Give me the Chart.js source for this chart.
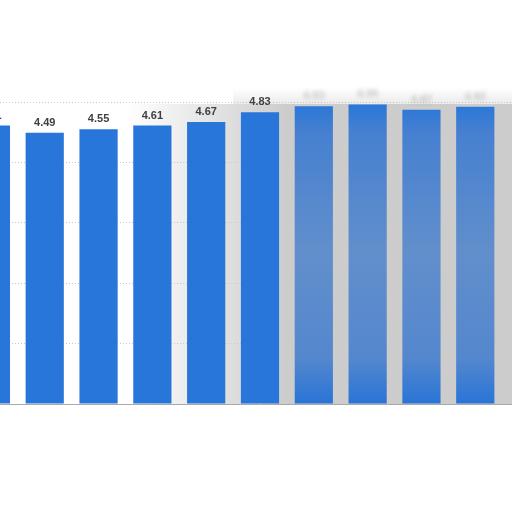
<!DOCTYPE html>
<html>
<head>
<meta charset="utf-8">
<script src="https://cdn.jsdelivr.net/npm/chart.js@4/dist/chart.umd.min.js"></script>
<style>
  html, body { margin: 0; padding: 0; width: 512px; height: 512px; overflow: hidden; background: #fff; }
  #wrap { position: absolute; left: -60px; top: 0; width: 640px; height: 512px; }
</style>
</head>
<body>
<div id="wrap"><canvas id="barChart"></canvas></div>
<script>
// categories are not readable in the picture (cropped / hidden), kept as plain keys
const categories = ['c1', 'c2', 'c3', 'c4', 'c5', 'c6', 'c7', 'c8', 'c9', 'c10', 'c11'];
// values read off the bars; the last four labels are blurred, so estimated from bar height
const values = [4.61, 4.49, 4.55, 4.61, 4.67, 4.83, 4.93, 4.96, 4.87, 4.92, null];
const labelText = ['4.61', '4.49', '4.55', '4.61', '4.67', '4.83', '4.93', '4.96', '4.87', '4.92', ''];
const yTicks = [0, 1, 2, 3, 4, 5];

const BLUE = 'rgb(40, 118, 217)';
const FIRST_BLURRED = 6;

// light grey haze behind the right half of the plot (behind grid and bars)
const hazePlugin = {
    id: 'haze',
    beforeDraw(chart) {
        const { ctx, chartArea } = chart;
        const x0 = chart.scales.x.getPixelForValue(2.5);
        const x1 = chart.scales.x.getPixelForValue(5.5);
        const g = ctx.createLinearGradient(x0, 0, x1, 0);
        g.addColorStop(0, 'rgba(200,200,200,0)');
        g.addColorStop(1, 'rgba(200,200,200,0.92)');
        ctx.save();
        ctx.fillStyle = g;
        ctx.fillRect(x0, chartArea.top + 2, chartArea.right - x0, chartArea.bottom - chartArea.top - 2);
        // soft fade just above the plot top
        const v = ctx.createLinearGradient(0, chartArea.top - 14, 0, chartArea.top + 2);
        v.addColorStop(0, 'rgba(215,215,215,0)');
        v.addColorStop(1, 'rgba(215,215,215,0.5)');
        ctx.fillStyle = v;
        ctx.fillRect(chart.scales.x.getPixelForValue(4.5), chartArea.top - 14, chartArea.right, 16);
        ctx.restore();
    }
};

// value labels above each bar
const valueLabels = {
    id: 'valueLabels',
    afterDatasetsDraw(chart) {
        const { ctx } = chart;
        const meta = chart.getDatasetMeta(0);
        ctx.save();
        ctx.font = 'bold 11px "Liberation Sans", Arial, sans-serif';
        ctx.textAlign = 'center';
        ctx.textBaseline = 'alphabetic';
        meta.data.forEach((bar, i) => {
            if (values[i] == null) return;
            if (i >= FIRST_BLURRED) {
                ctx.filter = 'blur(2px)';
                ctx.fillStyle = 'rgba(120,120,120,0.4)';
            } else {
                ctx.filter = 'none';
                ctx.fillStyle = '#3f3f3f';
            }
            ctx.fillText(labelText[i], bar.x, bar.y - 7);
        });
        ctx.restore();
    }
};

const barColor = (c) => {
    const i = c.dataIndex;
    const area = c.chart.chartArea;
    if (!area || i < FIRST_BLURRED) return BLUE;
    const g = c.chart.ctx.createLinearGradient(0, area.top, 0, area.bottom);
    g.addColorStop(0, 'rgb(40,118,217)');
    g.addColorStop(0.1, 'rgb(70,128,208)');
    g.addColorStop(0.5, 'rgb(98,143,204)');
    g.addColorStop(0.85, 'rgb(84,135,206)');
    g.addColorStop(1, 'rgb(40,116,214)');
    return g;
};

new Chart(document.getElementById('barChart').getContext('2d'), {
    type: 'bar',
    data: {
        labels: categories,
        datasets: [{
            data: values,
            backgroundColor: barColor,
            borderWidth: 0,
            barPercentage: 0.71,
            categoryPercentage: 1.0,
        }]
    },
    options: {
        responsive: true,
        maintainAspectRatio: false,
        animation: false,
        events: [],
        layout: { padding: { left: 24, right: 24, top: 102, bottom: 108 } },
        plugins: {
            legend: { display: false },
            tooltip: { enabled: false },
        },
        scales: {
            x: {
                grid: { display: false, drawTicks: false },
                ticks: { display: false },
                border: { display: true, color: '#a9a9a9', width: 1 },
            },
            y: {
                min: yTicks[0],
                max: yTicks[yTicks.length - 1],
                afterBuildTicks: (axis) => { axis.ticks = yTicks.map(v => ({ value: v })); },
                ticks: { display: false },
                grid: { color: '#c8c8c8', lineWidth: 1, drawTicks: false },
                border: { display: false, dash: [1, 2] },
            },
        },
    },
    plugins: [hazePlugin, valueLabels],
});
</script>
</body>
</html>
